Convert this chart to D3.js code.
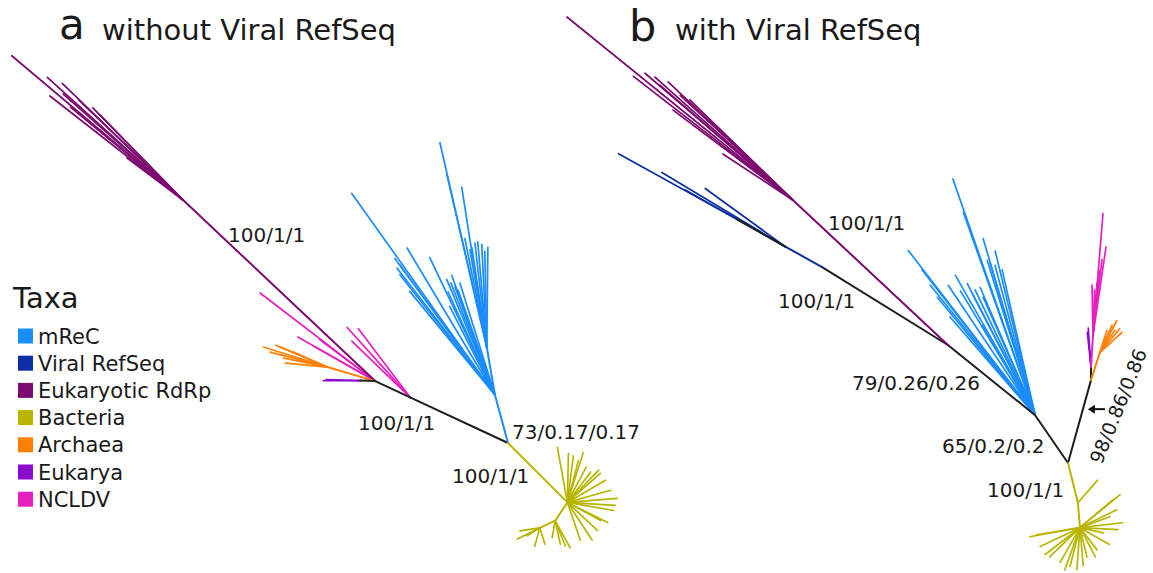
<!DOCTYPE html>
<html><head><meta charset="utf-8">
<script src="https://cdn.jsdelivr.net/npm/d3@7"></script>
<style>
html,body{margin:0;padding:0;background:#fff;}
svg text{font-family:"DejaVu Sans",Verdana,sans-serif;fill:#1a1a1a;}
</style></head><body>
<svg id="chart" width="1153" height="573"></svg>
<script>
// ---- Taxa and colours ----
const taxa = ["mReC","Viral RefSeq","Eukaryotic RdRp","Bacteria","Archaea","Eukarya","NCLDV"];
const taxaColors = ["#1a8cff","#0b2fa3","#7d0a70","#b8b500","#ff8000","#8a0ad0","#e81fc0"];

// ---- Tree A (without Viral RefSeq) ----
// internal branches: [id, parent, group, angle (deg, counter-clockwise from east), length (subst./site)]
const branchesA = [
  ["c1","root","int",155,1.08],
  ["c2","c1","int",155,0.385],
  ["eu","c2","Eukaryotic RdRp",136.7,2.64],
  ["ar","c2","Archaea",163.7,0.50],
  ["ek","c2","int",178,0.15],
  ["m1","root","mReC",105.2,0.50],
  ["m2","m1","mReC",99.7,0.48],
  ["bc","root","Bacteria",-45,0.84],
  ["bc2","bc","Bacteria",-123.7,0.22],
  ["bc3","bc2","Bacteria",-155,0.17]
];
// terminal branches: [from node, group, [[angle, length], ...]]
const tipsA = [
  ["c1","NCLDV",[[132,0.94],[127,0.86],[136,0.81]]],
  ["c2","NCLDV",[[142.6,1.45],[150.3,0.89],[143.3,0.69],[150.5,0.69]]],
  ["ar","Archaea",[[162.6,0.67],[156.9,0.51],[168.4,0.45],[174.6,0.42],[165.3,0.59],[156.2,0.37],[157,0.56]]],
  ["ek","Eukarya",[[180,0.37],[178.5,0.34]]],
  ["eu","Eukaryotic RdRp",[[139.9,2.24],[137.9,1.83],[136,1.68],[142,1.69],[134.4,1.29],[140.5,1.46],[143.1,0.70],[136.2,1.44],[134.3,1.19],[140.2,1.41],[138.5,1.60]]],
  ["m1","mReC",[[125.4,2.47],[126.3,1.69],[127.7,1.60],[129.5,1.34],[120.9,1.71],[115.4,1.52],[128.4,1.53],[126.2,1.61],
               [112.7,1.25],[110.3,1.15],[107.4,1.17],[117.1,0.99],[114.5,1.13],[109.9,1.27],[109.4,1.11],[111.5,1.20]]],
  ["m2","mReC",[[102.9,2.10],[103,1.78],[98.9,1.62],[101.4,1.11],[94.9,1.06],[91.2,0.96],[98.5,1.01],[89.4,1.00],[92.8,1.03],[99.8,0.99],[96.5,1.05]]],
  ["bc","Bacteria",[[100.3,0.56],[88.8,0.49],[82.7,0.47],[72.3,0.52],[75.3,0.43],[52.5,0.38],[45.9,0.45],[41.3,0.44],[30.1,0.44],
                    [15.6,0.45],[4.6,0.50],[-9.9,0.47],[-3.6,0.48],[-26.6,0.45],[-43,0.41],[-56.7,0.45],[-71.1,0.40],[-28.6,0.38],[62,0.40]]],
  ["bc2","Bacteria",[[-61,0.31],[-77.7,0.24],[-100,0.17],[-68,0.27]]],
  ["bc3","Bacteria",[[-171.5,0.20],[-148,0.15],[-153.4,0.25],[-105.5,0.19],[-72.6,0.17]]]
];
const supportA = ["100/1/1","100/1/1","73/0.17/0.17","100/1/1"];

// ---- Tree B (with Viral RefSeq) ----
const branchesB = [
  ["k1","root","int",124.5,0.58],
  ["k2","k1","int",141.2,1.12],
  ["k3","k2","int",148.2,1.48],
  ["v1","k3","Viral RefSeq",151,0.42],
  ["v2","v1","int",150.5,0.55],
  ["eu","k2","Eukaryotic RdRp",136.9,2.12],
  ["r1","root","int",74.5,0.86],
  ["r2","r1","int",90,0.13],
  ["ar","r1","Archaea",72.2,0.29],
  ["nc","r2","NCLDV",86.4,0.32],
  ["y1","root","Bacteria",-76,0.41],
  ["y2","y1","Bacteria",-85.4,0.25]
];
const tipsB = [
  ["eu","Eukaryotic RdRp",[[141,2.91],[142.2,2.02],[139.4,1.95],[138.3,1.85],[136.6,1.72],[143.1,1.50],[146.7,0.84],[139.2,1.76],[135.8,1.44],[137.1,1.54]]],
  ["v1","Viral RefSeq",[[144,0.99],[149,1.44],[150.5,1.15]]],
  ["v2","Viral RefSeq",[[151,1.36]]],
  ["k1","mReC",[[109.2,2.50],[109.5,2.15],[106.4,1.84],[103.7,1.69],[102.8,1.49],[107.2,1.62],[106.5,1.59],[105,1.55],
               [127.6,2.08],[127.9,1.84],[129.7,1.53],[119.7,1.61],[123.8,1.56],[117.3,1.48],[113.3,1.39],[113.8,1.29],
               [120.5,1.04],[130.9,1.30],[117.3,1.35],[128.9,1.67],[115.6,1.39],[121,1.45]]],
  ["ar","Archaea",[[62,0.36],[42.3,0.30],[66,0.30],[72.3,0.23],[50.2,0.31],[56,0.27]]],
  ["r2","Eukarya",[[94,0.39],[96,0.35]]],
  ["nc","NCLDV",[[85.3,1.22],[81.6,0.89],[91.1,0.50],[85.6,0.52],[83.2,0.76],[83.9,0.65],[86.7,0.35],[88,0.45]]],
  ["y1","Bacteria",[[49,0.30]]],
  ["y2","Bacteria",[[39.5,0.52],[40.3,0.43],[25.9,0.41],[6.6,0.43],[20.1,0.32],[-12.3,0.24],[-3,0.38],[-29.5,0.34],
                    [-52.3,0.28],[-76.4,0.30],[-94.1,0.42],[-104.4,0.40],[-119.7,0.40],[-136,0.42],[-154.6,0.44],
                    [-169.8,0.51],[-170.8,0.44],[-142.4,0.44],[-109.7,0.45],[-85,0.38],[-62,0.33]]]
];
const supportB = ["100/1/1","100/1/1","79/0.26/0.26","65/0.2/0.2","100/1/1","98/0.86/0.86"];

// ---- drawing ----
const svg = d3.select("#chart");
const len = d3.scaleLinear().domain([0,1]).range([0,100]);   // px per substitution/site
const color = d3.scaleOrdinal().domain(taxa.concat(["int"])).range(taxaColors.concat(["#1e1e1e"]));

function place(branches, origin){
  const pos = {root: origin};
  const segs = [];
  branches.forEach(([id,parent,g,ang,l]) => {
    const p = pos[parent], a = ang*Math.PI/180;
    pos[id] = [p[0] + len(l)*Math.cos(a), p[1] - len(l)*Math.sin(a)];
    segs.push({g, x1:p[0], y1:p[1], x2:pos[id][0], y2:pos[id][1], internal:true});
  });
  return {pos, segs};
}
function tipSegs(tips, pos){
  const out = [];
  tips.forEach(([from,g,list]) => {
    const p = pos[from];
    list.forEach(([ang,l]) => {
      const a = ang*Math.PI/180;
      out.push({g, x1:p[0], y1:p[1], x2:p[0]+len(l)*Math.cos(a), y2:p[1]-len(l)*Math.sin(a), internal:false});
    });
  });
  return out;
}
function drawTree(branches, tips, origin){
  const {pos, segs} = place(branches, origin);
  const all = tipSegs(tips, pos).concat(segs);
  const g = svg.append("g");
  g.selectAll("line").data(all).join("line")
    .attr("x1",d=>d.x1).attr("y1",d=>d.y1).attr("x2",d=>d.x2).attr("y2",d=>d.y2)
    .attr("stroke",d=>color(d.g))
    .attr("stroke-width",d=>d.internal?2:1.7)
    .attr("stroke-linecap","round");
  return pos;
}

const originA = [508,443], originB = [1068,463];
const posA = drawTree(branchesA, tipsA, originA);
const posB = drawTree(branchesB, tipsB, originB);

// support values
const offA = [[-280,-201],[-150,-13],[4,-4],[-56,40]];
supportA.forEach((t,i)=> svg.append("text").attr("x",originA[0]+offA[i][0]).attr("y",originA[1]+offA[i][1])
  .attr("font-size",20).text(t));
const offB = [[-240,-233],[-290,-155],[-216,-73],[-126,-10],[-81,34]];
supportB.slice(0,5).forEach((t,i)=> svg.append("text").attr("x",originB[0]+offB[i][0]).attr("y",originB[1]+offB[i][1])
  .attr("font-size",20).text(t));
svg.append("text")
  .attr("transform",`translate(${originB[0]+50},${originB[1]-57}) rotate(-68)`)
  .attr("text-anchor","middle").attr("dominant-baseline","central")
  .attr("font-size",19).text(supportB[5]);

// arrow pointing at the 98/0.86/0.86 branch
{
  const p = posB.r1, f = 0.65;
  const ax = originB[0] + (p[0]-originB[0])*f + 5, ay = originB[1] + (p[1]-originB[1])*f;
  svg.append("line").attr("x1",ax+17).attr("y1",ay).attr("x2",ax+3).attr("y2",ay)
    .attr("stroke","#111").attr("stroke-width",2);
  svg.append("path").attr("d",`M${ax},${ay} l7,-4.5 l0,9 z`).attr("fill","#111");
}

// titles
svg.append("text").attr("x",59).attr("y",39).attr("font-size",42).text("a");
svg.append("text").attr("x",102).attr("y",40).attr("font-size",29).text("without Viral RefSeq");
svg.append("text").attr("x",629).attr("y",41).attr("font-size",43).text("b");
svg.append("text").attr("x",675).attr("y",40).attr("font-size",29).text("with Viral RefSeq");

// legend
const lg = svg.append("g");
lg.append("text").attr("x",13).attr("y",308).attr("font-size",29).text("Taxa");
const row = d3.scaleLinear().domain([0,1]).range([336,363.2]);
const items = lg.selectAll("g.item").data(taxa).join("g").attr("class","item")
  .attr("transform",(d,i)=>`translate(0,${row(i)})`);
items.append("rect").attr("x",18).attr("y",-7.5).attr("width",15).attr("height",15)
  .attr("fill",(d,i)=>taxaColors[i]);
items.append("text").attr("x",38).attr("y",7.5).attr("font-size",21).text(d=>d);
</script>
</body></html>
